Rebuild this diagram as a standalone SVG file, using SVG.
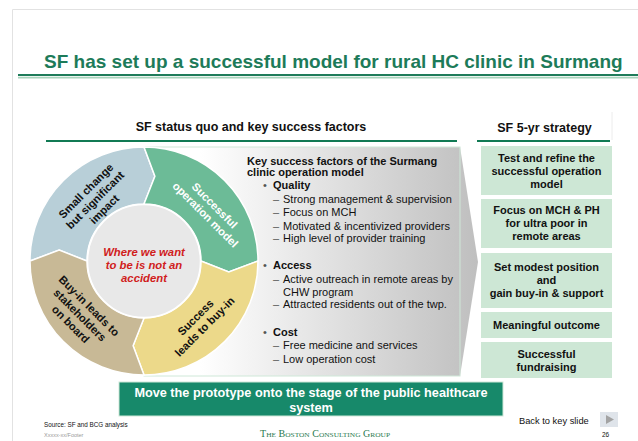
<svg xmlns="http://www.w3.org/2000/svg" width="638" height="441" viewBox="0 0 638 441">
<style>
text{font-family:"Liberation Sans",Arial,sans-serif;fill:#111}
.b{font-weight:bold}
.t11{font-size:11px}
.seg{stroke:#fff;stroke-width:1.5}
.lbl{font-size:11.2px;font-weight:bold;text-anchor:middle}
.box{fill:#cde7d5}
.bt{font-size:11px;font-weight:bold;text-anchor:middle}
.hdr{font-size:12.5px;font-weight:bold;text-anchor:middle}
.dash{fill:#555}
</style>
<defs>
<linearGradient id="pg" gradientUnits="userSpaceOnUse" x1="200" y1="0" x2="478" y2="0">
<stop offset="0" stop-color="#ffffff"/>
<stop offset="1" stop-color="#bfbfbf"/>
</linearGradient>
</defs>
<rect width="638" height="441" fill="#fff"/>
<g id="slide-frame">
<path d="M12.5 441 V9.5 H638" fill="none" stroke="#e2e2e2" stroke-width="1"/>
</g>
<g id="title">
<text x="44" y="68" font-size="19" class="b" style="fill:#1d7b59">SF has set up a successful model for rural HC clinic in Surmang</text>
<line x1="18" y1="75" x2="638" y2="75" stroke="#1f7c5a" stroke-width="2"/>
<line x1="18" y1="77.6" x2="638" y2="77.6" stroke="#a9d4bc" stroke-width="1.6"/>
</g>
<g id="header-left">
<text x="251" y="131" class="hdr">SF status quo and key success factors</text>
<line x1="46" y1="141" x2="457" y2="141" stroke="#117a54" stroke-width="2"/>
</g>
<g id="header-right">
<line x1="612" y1="112" x2="612" y2="140" stroke="#ececec" stroke-width="1"/>
<text x="544.5" y="132" class="hdr">SF 5-yr strategy</text>
<line x1="477" y1="141" x2="610" y2="141" stroke="#117a54" stroke-width="2"/>
</g>
<g id="success-factors-panel">
<polygon points="144,147 460,147 478,262 460,376 144,376" fill="url(#pg)"/>
<rect x="144" y="147" width="316" height="229" fill="none" stroke="#cfe8d8" stroke-width="1"/>
<text class="t11 b"><tspan x="247" y="165">Key success factors of the Surmang</tspan><tspan x="247" y="176">clinic operation model</tspan></text>
<text x="263" y="189" class="t11 dash">•</text><text x="273" y="189" class="t11 b">Quality</text>
<text class="t11">
<tspan x="273" y="203" class="dash">–</tspan><tspan x="283" y="203">Strong management &amp; supervision</tspan>
<tspan x="273" y="216" class="dash">–</tspan><tspan x="283" y="216">Focus on MCH</tspan>
<tspan x="273" y="230" class="dash">–</tspan><tspan x="283" y="230">Motivated &amp; incentivized providers</tspan>
<tspan x="273" y="242" class="dash">–</tspan><tspan x="283" y="242">High level of provider training</tspan>
</text>
<text x="263" y="269" class="t11 dash">•</text><text x="273" y="269" class="t11 b">Access</text>
<text class="t11">
<tspan x="273" y="283" class="dash">–</tspan><tspan x="283" y="283">Active outreach in remote areas by</tspan>
<tspan x="283" y="296">CHW program</tspan>
<tspan x="273" y="308" class="dash">–</tspan><tspan x="283" y="308">Attracted residents out of the twp.</tspan>
</text>
<text x="263" y="336" class="t11 dash">•</text><text x="273" y="336" class="t11 b">Cost</text>
<text class="t11">
<tspan x="273" y="349" class="dash">–</tspan><tspan x="283" y="349">Free medicine and services</tspan>
<tspan x="273" y="363" class="dash">–</tspan><tspan x="283" y="363">Low operation cost</tspan>
</text>
</g>
<g id="seg-small-change">
<path class="seg" fill="#b8cfd8" d="M30,261 A114,114 0 0 1 144,147 L154.9,176.2 L144,204 A57,57 0 0 0 87,261 L59.2,250.1 Z"/>
<text class="lbl" transform="translate(95,200) rotate(-45)"><tspan x="0" y="-9">Small change</tspan><tspan x="0" y="4">but significant</tspan><tspan x="0" y="17">impact</tspan></text>
</g>
<g id="seg-operation-model">
<path class="seg" fill="#6cbb97" d="M144,147 A114,114 0 0 1 258,261 L228.8,271.9 L201,261 A57,57 0 0 0 144,204 L154.9,176.2 Z"/>
<text class="lbl" style="fill:#fff" transform="translate(210,210) rotate(45)"><tspan x="0" y="-2.5">Successful</tspan><tspan x="0" y="10.5">operation model</tspan></text>
</g>
<g id="seg-buy-in">
<path class="seg" fill="#ecd98a" d="M258,261 A114,114 0 0 1 144,375 L133.1,345.8 L144,318 A57,57 0 0 0 201,261 L228.8,271.9 Z"/>
<text class="lbl" transform="translate(200,322) rotate(-45)"><tspan x="0" y="-2.5">Success</tspan><tspan x="0" y="10.5">leads to buy-in</tspan></text>
</g>
<g id="seg-stakeholders">
<path class="seg" fill="#c8b996" d="M144,375 A114,114 0 0 1 30,261 L59.2,250.1 L87,261 A57,57 0 0 0 144,318 L133.1,345.8 Z"/>
<text class="lbl" transform="translate(80,315) rotate(45)"><tspan x="0" y="-9">Buy-in leads to</tspan><tspan x="0" y="4">stakeholders</tspan><tspan x="0" y="17">on board</tspan></text>
</g>
<g id="center-circle">
<circle cx="144" cy="261" r="56.5" fill="#e8e8e8" stroke="#fff" stroke-width="1.5"/>
<text class="b" font-size="11.3" text-anchor="middle" font-style="italic" style="fill:#d0201c"><tspan x="144" y="256">Where we want</tspan><tspan x="144" y="269">to be is not an</tspan><tspan x="144" y="282">accident</tspan></text>
</g>
<g id="strategy-1">
<rect class="box" x="481" y="146" width="131" height="49"/>
<text class="bt"><tspan x="546.5" y="161.5">Test and refine the</tspan><tspan x="546.5" y="174.5">successful operation</tspan><tspan x="546.5" y="187.5">model</tspan></text>
</g>
<g id="strategy-2">
<rect class="box" x="481" y="199" width="131" height="49"/>
<text class="bt"><tspan x="546.5" y="214">Focus on MCH &amp; PH</tspan><tspan x="546.5" y="227">for ultra poor in</tspan><tspan x="546.5" y="240">remote areas</tspan></text>
</g>
<g id="strategy-3">
<rect class="box" x="481" y="253" width="131" height="55"/>
<text class="bt"><tspan x="546.5" y="271">Set modest position</tspan><tspan x="546.5" y="284">and</tspan><tspan x="546.5" y="297">gain buy-in &amp; support</tspan></text>
</g>
<g id="strategy-4">
<rect class="box" x="481" y="312" width="131" height="26"/>
<text class="bt" x="546.5" y="329">Meaningful outcome</text>
</g>
<g id="strategy-5">
<rect class="box" x="481" y="342" width="131" height="36"/>
<text class="bt"><tspan x="546.5" y="357.5">Successful</tspan><tspan x="546.5" y="370.5">fundraising</tspan></text>
</g>
<g id="prototype-banner">
<rect x="119" y="382" width="384" height="34" fill="#17896a" stroke="#cfe8d8" stroke-width="1"/>
<text class="b" font-size="12.7" text-anchor="middle" style="fill:#fff"><tspan x="311" y="397">Move the prototype onto the stage of the public healthcare</tspan><tspan x="311" y="412">system</tspan></text>
</g>
<g id="connectors"/>
<g id="footer">
<text x="44" y="427" font-size="6.3">Source: SF and BCG analysis</text>
<text x="44" y="437" font-size="5.5" style="fill:#9a9a9a">Xxxxx-xx/Footer</text>
<text x="325" y="437" text-anchor="middle" font-size="9.5" font-variant="small-caps" textLength="130" lengthAdjust="spacingAndGlyphs" style="font-family:'Liberation Serif','Times New Roman',serif;fill:#2a7a4f">The Boston Consulting Group</text>
<text x="519" y="424" font-size="9.3">Back to key slide</text>
<rect x="600" y="412" width="18" height="15" fill="#dfe4ea"/>
<polygon points="606,415 606,424 614,419.5" fill="#a3a3a3"/>
<text x="602" y="437" font-size="6.5">26</text>
</g>
</svg>
